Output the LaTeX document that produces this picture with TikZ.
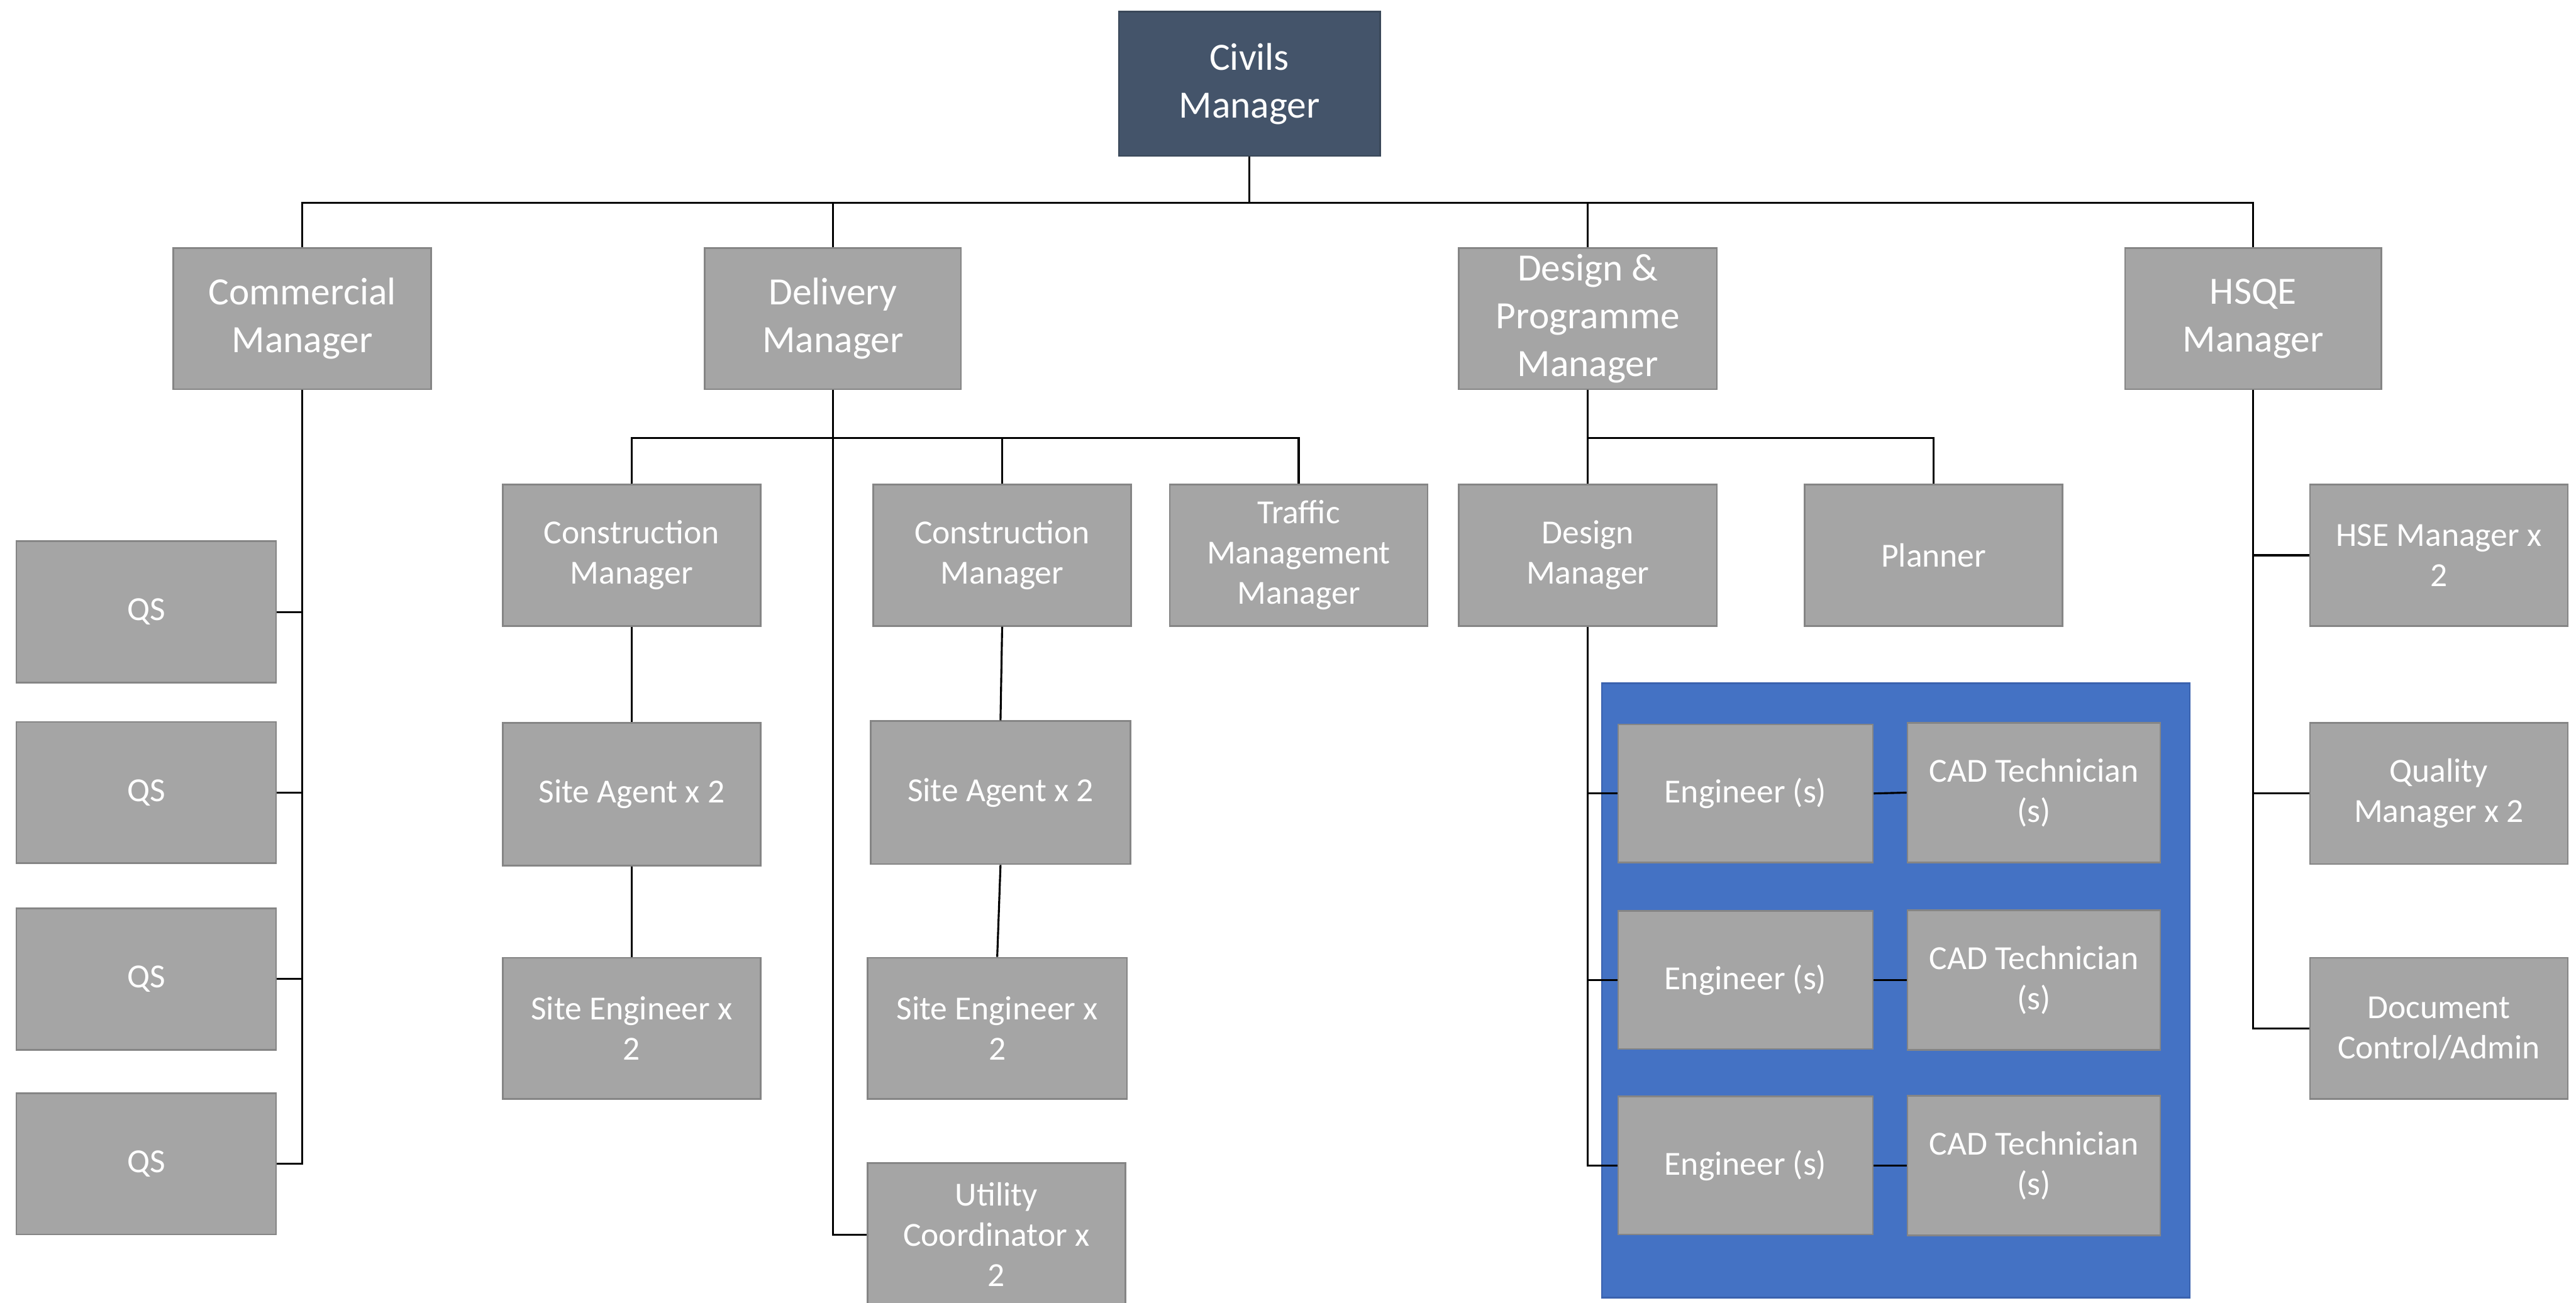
\documentclass[tikz,border=0pt]{standalone}
\usepackage{fontspec}
\setmainfont{Carlito}
\definecolor{boxgray}{HTML}{A5A5A5}
\definecolor{boxedge}{HTML}{858585}
\definecolor{topfill}{HTML}{44546A}
\definecolor{topedge}{HTML}{3A4859}
\definecolor{bluefill}{HTML}{4472C4}
\definecolor{blueedge}{HTML}{3A62AE}
\tikzset{
  box/.style={draw=boxedge, line width=1pt, fill=boxgray, text=white, align=center,
    inner sep=0pt, font=\fontsize{20.5}{24.5}\selectfont},
  bigbox/.style={box, font=\fontsize{23.5}{29}\selectfont},
  topbox/.style={bigbox, fill=topfill, draw=topedge},
  conn/.style={draw=black, line width=1.2pt},
}
\begin{document}
\begin{tikzpicture}[x=1pt, y=-1pt]
\useasboundingbox[fill=white] (0,0) rectangle (1568,793);

% blue group background
\node[draw=blueedge, line width=1pt, fill=bluefill, minimum width=358pt, minimum height=374pt, inner sep=0pt] (grp) at (1154,603) {};

% top
\node[topbox, minimum width=159pt, minimum height=88pt] (civ) at (760.5,51) {Civils\\Manager};

% level 1
\node[bigbox, minimum width=157pt, minimum height=86pt] (com) at (184,194) {Commercial\\Manager};
\node[bigbox, minimum width=156pt, minimum height=86pt] (del) at (507,194) {Delivery\\Manager};
\node[bigbox, minimum width=157pt, minimum height=86pt] (dpm) at (966.5,194) {Design \&\\Programme\\Manager};
\node[bigbox, minimum width=156pt, minimum height=86pt] (hsqe) at (1371.5,194) {HSQE\\Manager};

% commercial children
\node[box, minimum width=158pt, minimum height=86pt] (qs1) at (89,372.5) {QS};
\node[box, minimum width=158pt, minimum height=86pt] (qs2) at (89,482.5) {QS};
\node[box, minimum width=158pt, minimum height=86pt] (qs3) at (89,596) {QS};
\node[box, minimum width=158pt, minimum height=86pt] (qs4) at (89,708.5) {QS};

% delivery children
\node[box, minimum width=157pt, minimum height=86pt] (cm1) at (384.5,338) {Construction\\Manager};
\node[box, minimum width=157pt, minimum height=86pt] (cm2) at (610,338) {Construction\\Manager};
\node[box, minimum width=157pt, minimum height=86pt] (tmm) at (790.5,338) {Traffic\\Management\\Manager};
\node[box, minimum width=157pt, minimum height=87pt] (sa1) at (384.5,483.5) {Site Agent x 2};
\node[box, minimum width=157pt, minimum height=86pt] (se1) at (384.5,626) {Site Engineer x\\2};
\node[box, minimum width=158pt, minimum height=87pt] (sa2) at (609,482.5) {Site Agent x 2};
\node[box, minimum width=158pt, minimum height=86pt] (se2) at (607,626) {Site Engineer x\\2};
\node[box, minimum width=157pt, minimum height=87pt] (uc) at (606.5,751.5) {Utility\\Coordinator x\\2};

% design & programme children
\node[box, minimum width=157pt, minimum height=86pt] (dm) at (966.5,338) {Design\\Manager};
\node[box, minimum width=157pt, minimum height=86pt] (pl) at (1177,338) {Planner};
\node[box, minimum width=155pt, minimum height=84pt] (eng1) at (1062.5,483) {Engineer (s)};
\node[box, minimum width=155pt, minimum height=84pt] (eng2) at (1062.5,596.5) {Engineer (s)};
\node[box, minimum width=155pt, minimum height=84pt] (eng3) at (1062.5,709.5) {Engineer (s)};
\node[box, minimum width=154pt, minimum height=85pt] (cad1) at (1238,482.5) {CAD Technician\\(s)};
\node[box, minimum width=154pt, minimum height=85pt] (cad2) at (1238,596.5) {CAD Technician\\(s)};
\node[box, minimum width=154pt, minimum height=85pt] (cad3) at (1238,709.5) {CAD Technician\\(s)};

% HSQE children
\node[box, minimum width=157pt, minimum height=86pt] (hse) at (1484.5,338) {HSE Manager x\\2};
\node[box, minimum width=157pt, minimum height=86pt] (qm) at (1484.5,483) {Quality\\Manager x 2};
\node[box, minimum width=157pt, minimum height=86pt] (dc) at (1484.5,626) {Document\\Control/Admin};

% buses
\coordinate (b1) at (760.5,123.5);
\coordinate (b2) at (507,266.5);
\coordinate (b3) at (966.5,266.5);

% connectors level 0 -> 1
\draw[conn] (civ.south) -- (b1);
\draw[conn] (com.north) |- (b1) -| (hsqe.north);
\draw[conn] (del.north) |- (b1);
\draw[conn] (dpm.north) |- (b1);

% commercial
\draw[conn] (com.south) |- (qs4.east);
\draw[conn] (qs1.east) -| (com.south);
\draw[conn] (qs2.east) -| (com.south);
\draw[conn] (qs3.east) -| (com.south);

% delivery
\draw[conn] (del.south) |- (uc.west);
\draw[conn] (cm1.north) |- (b2) -| (tmm.north);
\draw[conn] (cm2.north) |- (b2);
\draw[conn] (cm1.south) -- (sa1.north);
\draw[conn] (sa1.south) -- (se1.north);
\draw[conn] (cm2.south) -- (sa2.north);
\draw[conn] (sa2.south) -- (se2.north);

% design & programme
\draw[conn] (dpm.south) -- (b3) -| (pl.north);
\draw[conn] (dm.north) -- (b3);
\draw[conn] (dm.south) |- (eng3.west);
\draw[conn] (eng1.west) -| (dm.south);
\draw[conn] (eng2.west) -| (dm.south);
\draw[conn] (eng1.east) -- (cad1.west);
\draw[conn] (eng2.east) -- (cad2.west);
\draw[conn] (eng3.east) -- (cad3.west);

% HSQE
\draw[conn] (hsqe.south) |- (dc.west);
\draw[conn] (hse.west) -| (hsqe.south);
\draw[conn] (qm.west) -| (hsqe.south);
\end{tikzpicture}
\end{document}
